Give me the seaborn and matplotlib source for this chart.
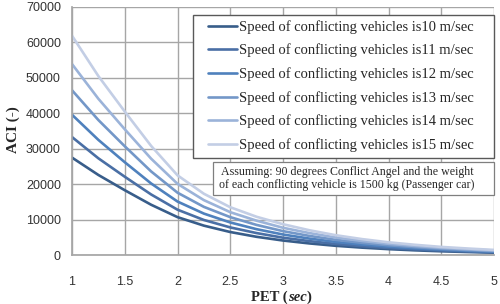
import numpy as np
import pandas as pd
import seaborn as sns
import matplotlib.pyplot as plt
from matplotlib.patches import Rectangle

# PET values (sec)
pet = [1, 1.25, 1.5, 1.75, 2, 2.25, 2.5, 2.75, 3, 3.25, 3.5, 3.75, 4, 4.25, 4.5, 4.75, 5]

# ACI, one list per speed
aci_10 = [27500, 22600, 18300, 14200, 10700, 8300, 6500, 5150, 4100, 3280, 2610, 2090, 1670, 1330, 1060, 850, 660]
aci_11 = [33300, 27300, 22100, 17100, 12800, 9900, 7800, 6200, 4900, 3930, 3130, 2510, 2000, 1600, 1280, 1020, 790]
aci_12 = [39600, 32500, 26200, 20200, 15100, 11700, 9200, 7300, 5800, 4650, 3700, 2970, 2370, 1900, 1510, 1210, 940]
aci_13 = [46500, 38100, 30700, 23600, 17600, 13600, 10700, 8500, 6750, 5400, 4300, 3450, 2760, 2220, 1760, 1410, 1100]
aci_14 = [53900, 44100, 35500, 27200, 20100, 15500, 12100, 9700, 7700, 6200, 4950, 3980, 3180, 2560, 2030, 1630, 1270]
aci_15 = [61900, 50500, 40500, 30800, 22500, 17300, 13500, 10800, 8700, 7000, 5600, 4500, 3600, 2900, 2300, 1850, 1450]

speeds = [10, 11, 12, 13, 14, 15]
series = [aci_10, aci_11, aci_12, aci_13, aci_14, aci_15]
labels = [f"Speed of conflicting vehicles is{s} m/sec" for s in speeds]
colors = ["#385D8A", "#4A6FA5", "#4F81BD", "#7397C8", "#9BB3D9", "#C3CEE5"]

rows = []
for lab, vals in zip(labels, series):
    for p, v in zip(pet, vals):
        rows.append({"PET": p, "ACI": v, "speed": lab})
df = pd.DataFrame(rows)

sns.set_theme(style="whitegrid")
plt.rcParams["font.family"] = ["Liberation Sans", "DejaVu Sans"]

fig = plt.figure(figsize=(5, 3.04), dpi=100)
ax = fig.add_axes([0.144, 0.161, 0.844, 0.816])

sns.lineplot(data=df, x="PET", y="ACI", hue="speed", palette=colors,
             linewidth=1.9, ax=ax, legend=False)

ax.set_xlim(1, 5)
ax.set_ylim(0, 70000)
ax.set_xticks([1, 1.5, 2, 2.5, 3, 3.5, 4, 4.5, 5])
ax.set_xticklabels(["1", "1.5", "2", "2.5", "3", "3.5", "4", "4.5", "5"])
ax.set_yticks(range(0, 70001, 10000))
ax.grid(True, color="#A6A6A6", linewidth=1)
for s in ax.spines.values():
    s.set_visible(False)
ax.spines["left"].set_visible(True)
ax.spines["left"].set_color("#A6A6A6")
ax.spines["bottom"].set_visible(True)
ax.spines["bottom"].set_color("#A6A6A6")
ax.tick_params(axis="both", labelsize=9, colors="#333333", length=4,
               width=1, color="#A6A6A6", pad=4, direction="out")
ax.tick_params(axis="x", pad=11)
ax.set_xlabel("")
ax.set_ylabel("")

# legend frame (Excel style, wider than the entries)
ax.add_patch(Rectangle((0.2867, 0.391), 0.713, 0.577, transform=ax.transAxes,
                       fc="white", ec="#595959", lw=1.0, zorder=4, clip_on=False))
handles = [plt.Line2D([0], [0], color=c, lw=1.9) for c in colors]
leg = ax.legend(handles, labels, loc="upper left", bbox_to_anchor=(0.322, 0.948),
                borderaxespad=0, frameon=False, handlelength=2.0, handletextpad=0.1,
                labelspacing=0.68, borderpad=0,
                prop={"family": "Liberation Serif", "size": 10.5})
leg.set_zorder(5)

# note box
ax.add_patch(Rectangle((0.334, 0.242), 0.666, 0.133, transform=ax.transAxes,
                       fc="white", ec="#7F7F7F", lw=0.9, zorder=4, clip_on=False))
ax.text(0.652, 0.308, "Assuming: 90 degrees Conflict Angel and the weight\n"
        "of each conflicting vehicle is 1500 kg (Passenger car)",
        transform=ax.transAxes, ha="center", va="center", zorder=5,
        family="Liberation Serif", fontsize=8.6, linespacing=1.15)

# axis labels
fig.text(0.026, 0.575, "ACI (-)", rotation=90, ha="center", va="center",
         family="Liberation Serif", fontweight="bold", fontsize=11)
t1 = fig.text(0.576, 0.011, "PET (", ha="right", va="baseline",
              family="Liberation Serif", fontweight="bold", fontsize=10.5)
t2 = ax.annotate("sec", xy=(1, 0), xycoords=t1, va="bottom", ha="left",
                 family="Liberation Serif", fontweight="bold", style="italic", fontsize=10.5)
ax.annotate(")", xy=(1, 0), xycoords=t2, va="bottom", ha="left",
            family="Liberation Serif", fontweight="bold", fontsize=10.5)

fig.savefig("out.png", dpi=100)
